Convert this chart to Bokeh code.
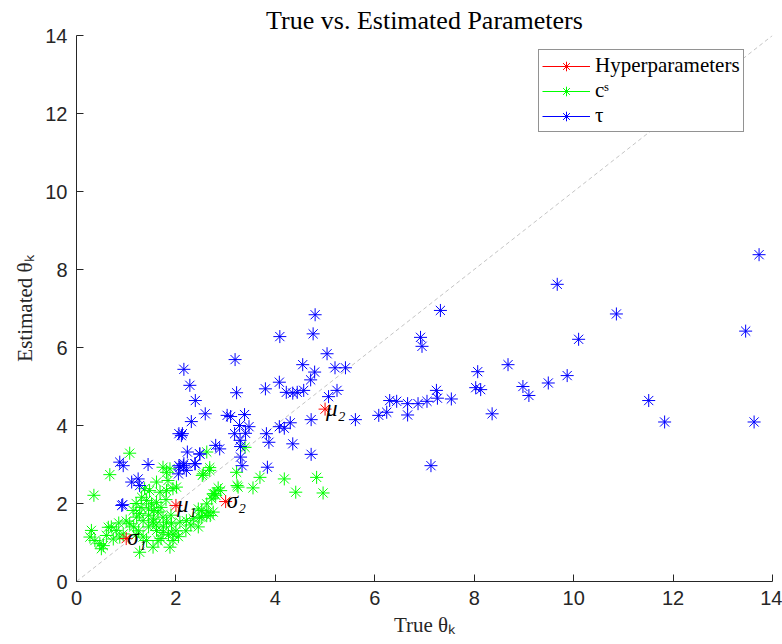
from bokeh.plotting import figure
from bokeh.models import Range1d, FixedTicker, Legend, LegendItem, ColumnDataSource
from bokeh.embed import file_html
from bokeh.resources import INLINE
from bokeh.core.properties import value

# Axis ticks
x_ticks = [0, 2, 4, 6, 8, 10, 12, 14]
y_ticks = [0, 2, 4, 6, 8, 10, 12, 14]

# Identity reference (true == estimated)
identity = [0, 14]

# Hyperparameters
hyper_true = [1.0, 2.0, 3.0, 5.0]
hyper_est = [1.10, 1.95, 2.05, 4.42]
hyper_labels = ["σ₁", "μ₁", "σ₂", "μ₂"]

# c^s parameters
cs_true = [1.07, 0.67, 0.35, 1.74, 1.81, 1.88, 1.61, 1.37, 1.47, 1.68, 1.81, 1.94,
           2.01, 1.84, 2.55, 2.68, 1.31, 1.41, 1.51, 1.61, 1.45, 1.56, 1.64, 1.14,
           1.21, 1.27, 1.07, 1.34, 1.54, 1.74, 1.81, 1.91, 1.61, 1.74, 1.94, 1.94,
           1.88, 1.64, 1.54, 1.34, 1.41, 0.30, 0.27, 0.37, 0.47, 0.50, 0.54, 0.64,
           0.60, 0.74, 0.80, 0.87, 1.27, 0.94, 2.08, 2.21, 2.35, 2.48, 2.62, 2.75,
           2.72, 2.78, 3.39, 2.62, 2.68, 2.53, 3.22, 3.69, 4.18, 4.83, 3.25, 3.55,
           4.41, 4.96, 2.85, 2.75, 2.62, 2.52, 2.65, 2.45, 2.69, 2.52, 2.90, 2.80,
           3.23, 1.20, 1.30, 1.45, 1.55, 1.70, 1.80, 1.90, 1.00, 1.15, 1.25, 1.45,
           1.60, 1.75, 1.85, 2.00, 2.05, 1.70, 1.20, 0.85, 0.70, 2.30, 2.45, 2.20]
cs_est = [3.29, 2.74, 2.21, 2.93, 2.80, 2.89, 2.55, 2.38, 2.33, 2.29, 2.33, 2.38,
          2.42, 2.59, 2.76, 2.85, 2.16, 2.08, 1.99, 2.03, 1.86, 1.82, 1.78, 1.82,
          1.65, 1.74, 1.48, 1.56, 1.52, 1.65, 1.52, 1.48, 1.31, 1.26, 1.22, 1.05,
          0.88, 1.05, 0.88, 1.14, 1.05, 1.31, 1.14, 1.05, 0.97, 0.84, 0.92, 1.39,
          1.18, 1.09, 1.31, 1.14, 0.75, 1.22, 1.52, 1.56, 1.61, 1.65, 1.69, 1.78,
          2.12, 2.25, 3.44, 3.32, 2.92, 2.72, 2.80, 2.67, 2.63, 2.67, 2.42, 2.40,
          2.29, 2.27, 2.40, 2.25, 1.99, 1.82, 1.78, 1.86, 1.69, 1.65, 2.33, 2.21,
          2.46, 2.00, 1.90, 1.70, 1.60, 1.90, 2.10, 1.70, 1.55, 1.40, 1.30, 1.40,
          1.45, 1.40, 1.20, 1.30, 1.15, 1.10, 1.20, 1.50, 1.40, 1.45, 1.40, 1.30]

# tau parameters
tau_true = [13.73, 9.67, 7.32, 6.92, 6.95, 10.86, 10.10, 13.46, 8.68, 8.07, 9.87,
            9.49, 8.98, 9.10, 8.03, 8.13, 8.36, 11.51, 11.83, 13.63, 7.13, 7.54,
            7.24, 7.26, 7.05, 6.87, 6.66, 6.66, 6.44, 6.30, 6.24, 6.08, 5.61,
            4.80, 4.76, 4.09, 5.04, 3.19, 2.16, 4.55, 5.20, 5.41, 4.79, 2.28, 4.08,
            3.22, 3.80, 2.39, 2.59, 4.22, 4.35, 4.44, 4.57, 4.71, 5.07, 5.24, 2.31,
            3.03, 3.10, 3.38, 2.06, 2.11, 3.28, 3.47, 3.18, 3.40, 3.82, 3.87, 4.08,
            4.18, 4.30, 4.72, 4.35, 4.72, 3.30, 2.23, 2.48, 2.80, 2.88, 3.30, 3.33,
            3.84, 2.39, 2.06, 2.16, 3.29, 2.15, 2.05, 2.21, 2.38, 2.08, 2.13,
            0.87, 0.94, 1.44, 1.11, 1.24, 1.27, 0.91, 0.93, 2.48]
tau_est = [8.38, 7.62, 6.95, 6.26, 6.03, 6.86, 6.21, 6.42, 5.56, 5.38, 5.28,
           5.09, 5.00, 4.77, 4.97, 4.92, 4.30, 4.64, 4.09, 4.09, 2.97, 4.68,
           4.90, 4.70, 4.62, 4.56, 4.56, 4.27, 4.62, 4.64, 4.34, 4.26, 4.15,
           6.84, 6.35, 6.28, 5.84, 5.69, 5.44, 5.56, 5.48, 5.48, 5.37, 5.03, 5.11,
           4.84, 4.94, 4.64, 4.30, 4.85, 4.83, 4.85, 4.90, 5.17, 4.74, 4.90, 4.10,
           4.26, 4.23, 4.28, 3.79, 3.74, 4.00, 3.97, 3.79, 3.80, 3.79, 3.57, 3.97,
           3.93, 4.07, 4.15, 3.53, 3.26, 3.46, 3.32, 3.27, 3.49, 3.40, 3.19, 2.97,
           2.93, 3.02, 2.97, 3.02, 3.62, 2.97, 2.76, 2.85, 3.02, 2.93, 3.79,
           3.06, 2.97, 3.00, 2.55, 2.63, 2.46, 1.95, 1.97, 3.27]

AXIS_COLOR = "#262626"
SERIF = "Liberation Serif"
SANS = "Liberation Sans"
NAN = float("nan")

p = figure(width=782, height=644, output_backend="svg", toolbar_location=None,
           x_range=Range1d(0, 14), y_range=Range1d(0, 14),
           min_border_left=76, min_border_right=10, min_border_top=35,
           min_border_bottom=63, background_fill_color="white",
           border_fill_color="white")
p.outline_line_color = None
p.grid.visible = False

p.title.text = "True vs. Estimated Parameters"
p.title.align = "center"
p.title.text_font = SERIF
p.title.text_font_size = "26px"
p.title.text_font_style = "normal"
p.title.text_color = "#000000"
p.title.offset = 0
p.title.standoff = 2

for ax, ticks in ((p.xaxis[0], x_ticks), (p.yaxis[0], y_ticks)):
    ax.ticker = FixedTicker(ticks=ticks)
    ax.axis_line_color = AXIS_COLOR
    ax.major_tick_line_color = AXIS_COLOR
    ax.major_tick_in = 7
    ax.major_tick_out = 0
    ax.minor_tick_line_color = None
    ax.major_label_text_font = SANS
    ax.major_label_text_font_size = "20px"
    ax.major_label_text_color = AXIS_COLOR
    ax.major_label_standoff = 9
    ax.axis_label_text_font = SERIF
    ax.axis_label_text_font_size = "21px"
    ax.axis_label_text_font_style = "normal"
    ax.axis_label_text_color = AXIS_COLOR
    ax.axis_label_standoff = 5

p.xaxis.axis_label = "True θₖ"
p.yaxis.axis_label = "Estimated θₖ"

# dashed identity line
p.line(identity, identity, line_color="#c4c4c4", line_width=1, line_dash="4 3")

cs_src = ColumnDataSource(dict(x=cs_true, y=cs_est))
tau_src = ColumnDataSource(dict(x=tau_true, y=tau_est))
hyp_src = ColumnDataSource(dict(x=hyper_true, y=hyper_est, label=hyper_labels))

r_cs = p.scatter("x", "y", source=cs_src, marker="asterisk", size=13,
                 line_color="#00ff00", line_width=1)
r_tau = p.scatter("x", "y", source=tau_src, marker="asterisk", size=13,
                  line_color="#0000ff", line_width=1)
r_hyp = p.scatter("x", "y", source=hyp_src, marker="asterisk", size=13,
                  line_color="#ff0000", line_width=1)
p.text("x", "y", text="label", source=hyp_src, text_font=value(SERIF),
       text_font_style="italic", text_font_size="23px", text_color="#000000",
       text_baseline="middle", text_align="left", x_offset=1, y_offset=-1)

# line samples for the legend entries (line + marker style)
l_hyp = p.line(x=[NAN], y=[NAN], line_color="#ff0000", line_width=1)
l_cs = p.line(x=[NAN], y=[NAN], line_color="#00ff00", line_width=1)
l_tau = p.line(x=[NAN], y=[NAN], line_color="#0000ff", line_width=1)

legend = Legend(items=[
    LegendItem(label="Hyperparameters", renderers=[l_hyp, r_hyp]),
    LegendItem(label="cˢ", renderers=[l_cs, r_cs]),
    LegendItem(label="τ", renderers=[l_tau, r_tau]),
], location=(462, 449))
legend.label_text_font = SERIF
legend.label_text_font_size = "21px"
legend.label_text_color = "#000000"
legend.glyph_width = 48
legend.glyph_height = 24
legend.label_height = 24
legend.label_width = 140
legend.label_standoff = 5
legend.spacing = 0
legend.padding = 3
legend.margin = 0
legend.border_line_color = AXIS_COLOR
legend.border_line_width = 1
legend.background_fill_color = "white"
legend.background_fill_alpha = 1
p.add_layout(legend)

open("out.html", "w").write(file_html(p, INLINE))
